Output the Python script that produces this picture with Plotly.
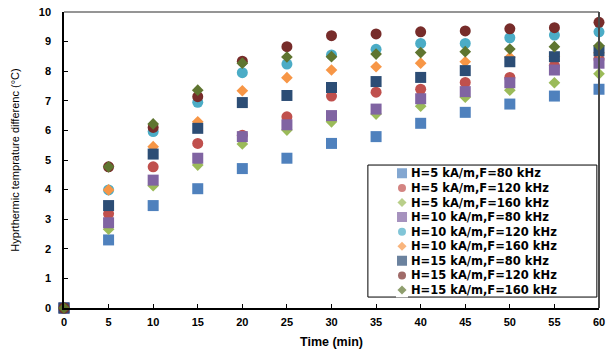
import plotly.graph_objects as go

time_min = [0, 5, 10, 15, 20, 25, 30, 35, 40, 45, 50, 55, 60]

h5_f80 = [0, 2.30, 3.46, 4.03, 4.71, 5.06, 5.56, 5.79, 6.24, 6.61, 6.89, 7.16, 7.39]
h5_f120 = [0, 3.18, 4.77, 5.56, 5.84, 6.46, 7.16, 7.29, 7.39, 7.62, 7.79, 8.19, 8.41]
h5_f160 = [0, 2.66, 4.13, 4.83, 5.54, 6.01, 6.29, 6.55, 6.82, 7.12, 7.36, 7.61, 7.91]
h10_f80 = [0, 2.88, 4.32, 5.06, 5.79, 6.19, 6.50, 6.72, 7.07, 7.31, 7.61, 8.04, 8.27]
h10_f120 = [0, 3.99, 5.96, 6.95, 7.95, 8.24, 8.55, 8.74, 8.94, 8.94, 9.13, 9.22, 9.33]
h10_f160 = [0, 3.99, 5.45, 6.29, 7.34, 7.78, 8.04, 8.15, 8.27, 8.32, 8.47, 8.50, 8.62]
h15_f80 = [0, 3.46, 5.20, 6.07, 6.94, 7.18, 7.45, 7.65, 7.79, 8.02, 8.32, 8.49, 8.69]
h15_f120 = [0, 4.77, 6.10, 7.14, 8.34, 8.83, 9.20, 9.26, 9.33, 9.36, 9.43, 9.47, 9.65]
h15_f160 = [0, 4.77, 6.22, 7.36, 8.27, 8.48, 8.49, 8.58, 8.63, 8.66, 8.75, 8.83, 8.86]

series_names = [
    "H=5 kA/m,F=80 kHz", "H=5 kA/m,F=120 kHz", "H=5 kA/m,F=160 kHz",
    "H=10 kA/m,F=80 kHz", "H=10 kA/m,F=120 kHz", "H=10 kA/m,F=160 kHz",
    "H=15 kA/m,F=80 kHz", "H=15 kA/m,F=120 kHz", "H=15 kA/m,F=160 kHz",
]
series_values = [h5_f80, h5_f120, h5_f160, h10_f80, h10_f120, h10_f160,
                 h15_f80, h15_f120, h15_f160]
colors = ["#4F81BD", "#C0504D", "#9BBB59", "#8064A2", "#4BACC6", "#F79646",
          "#2C4D75", "#772C2A", "#5F7530"]
symbols = ["square", "circle", "diamond"] * 3
size_map = {"square": 11, "circle": 11, "diamond": 9}
key_size_map = {"square": 10, "circle": 8, "diamond": 7}

y_ticks = list(range(0, 11))
x_ticks = time_min

FONT = "Arial, Liberation Sans, sans-serif"
LEGEND_FONT = "DejaVu Sans, Arial, sans-serif"

fig = go.Figure()
for name, vals, col, sym in zip(series_names, series_values, colors, symbols):
    fig.add_trace(go.Scatter(
        x=time_min, y=vals, mode="markers", name=name,
        marker=dict(symbol=sym, color=col, size=size_map[sym], line=dict(width=0)),
        cliponaxis=False, showlegend=False,
    ))

# legend key column drawn on a small category axis
fig.add_trace(go.Scatter(
    x=[0] * len(series_names), y=series_names, xaxis="x2", yaxis="y2",
    mode="markers", showlegend=False, hoverinfo="skip",
    marker=dict(symbol=symbols, color=colors,
                size=[key_size_map[s] for s in symbols], line=dict(width=0)),
))

fig.update_layout(
    width=608, height=354,
    margin=dict(l=64, r=9, t=12, b=46, autoexpand=False),
    paper_bgcolor="white", plot_bgcolor="white",
    showlegend=False,
    font=dict(family=FONT, color="black"),
    xaxis=dict(
        range=[0, 60], tickvals=x_ticks, ticks="inside", ticklen=4,
        tickcolor="black", tickwidth=1, showline=True, linecolor="black",
        linewidth=1.5, showgrid=False, zeroline=False, automargin=False,
        tickfont=dict(size=11, weight="bold", family=FONT),
        ticklabelstandoff=3,
        title=dict(text="Time (min)", font=dict(size=12.5, weight="bold", family=FONT),
                   standoff=10),
    ),
    yaxis=dict(
        range=[0, 10], tickvals=y_ticks, ticks="inside", ticklen=4,
        tickcolor="black", tickwidth=1, showline=True, linecolor="black",
        linewidth=1.5, showgrid=False, zeroline=False, automargin=False,
        tickfont=dict(size=11, weight="bold", family=FONT),
        ticklabelstandoff=9,
        title=dict(text="Hyprthermic temprature differenc (°C)",
                   font=dict(size=11, family=FONT), standoff=17),
    ),
    xaxis2=dict(domain=[0.6206, 0.6430], range=[-1, 1], visible=False,
                anchor="y2", fixedrange=True, automargin=False),
    yaxis2=dict(domain=[0.036, 0.4797], anchor="x2", side="right",
                type="category", categoryorder="array",
                categoryarray=series_names, range=[8.5, -0.5],
                showline=False, showgrid=False, zeroline=False, ticks="",
                automargin=False,
                tickfont=dict(size=11.5, weight="bold", family=LEGEND_FONT),
                ticklabelstandoff=2, fixedrange=True),
    shapes=[
        dict(type="rect", xref="paper", yref="paper", x0=0.568, x1=0.996,
             y0=0.037, y1=0.483, line=dict(color="black", width=1),
             fillcolor="white", layer="below"),
        dict(type="line", xref="paper", yref="paper", x0=0, x1=1, y0=1, y1=1,
             line=dict(color="#959595", width=2)),
        dict(type="line", xref="paper", yref="paper", x0=1, x1=1, y0=0, y1=1,
             line=dict(color="#4a4a4a", width=2)),
    ],
)

fig.write_html("out.html", config={"displayModeBar": False},
               post_script="document.body.style.margin='0';")
